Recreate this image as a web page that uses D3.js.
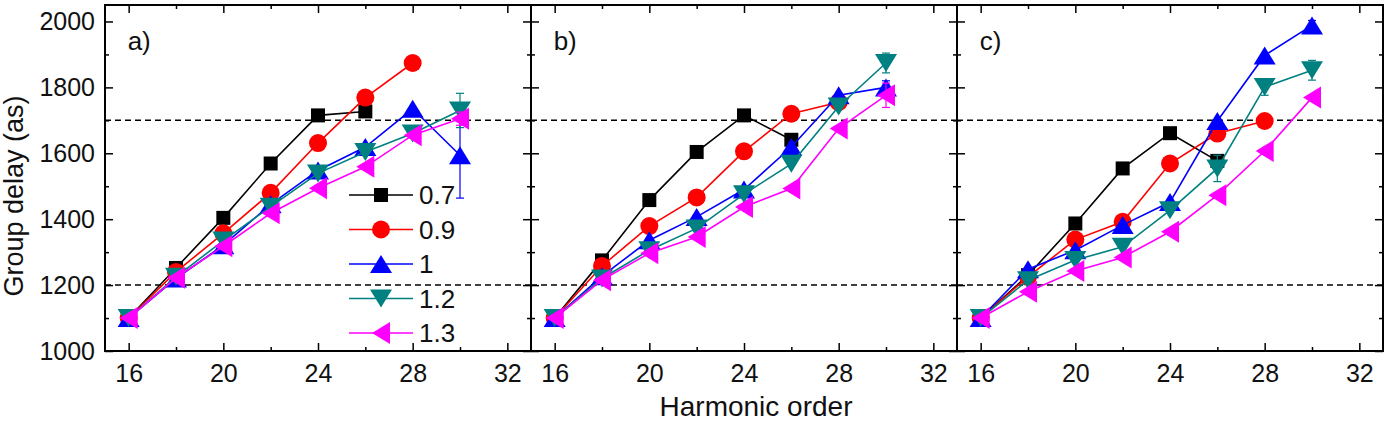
<!DOCTYPE html>
<html>
<head>
<meta charset="UTF-8">
<title>Group delay vs harmonic order</title>
<script src="https://d3js.org/d3.v7.min.js"></script>
<style>
  body { margin: 0; background: #fff; }
  text { font-family: "Liberation Sans", Arial, sans-serif; fill: #111; }
</style>
</head>
<body>
<div id="chart"></div>
<script>
// harmonic orders and legend entries
const harmonics = [16, 18, 20, 22, 24, 26, 28, 30];
const intensities = ["0.7", "0.9", "1", "1.2", "1.3"];
const panelLabels = ["a)", "b)", "c)"];
const xTicks = [16, 20, 24, 28, 32];
const xMinor = [18, 22, 26, 30];
const yTicks = [1000, 1200, 1400, 1600, 1800, 2000];
const yMinor = [1100, 1300, 1500, 1700, 1900];
const refLines = [1200, 1700];

// group delay (as), one row per intensity
const delayA = [
  [1100, 1252, 1404, 1569, 1715, 1727],
  [1100, 1240, 1357, 1480, 1631, 1769, 1874],
  [1100, 1220, 1321, 1445, 1548, 1619, 1735, 1594],
  [1100, 1225, 1335, 1438, 1539, 1604, 1660, 1730],
  [1100, 1222, 1318, 1418, 1494, 1559, 1655, 1705]
];
const delayB = [
  [1100, 1275, 1458, 1604, 1715, 1641],
  [1100, 1258, 1379, 1466, 1606, 1720, 1755],
  [1100, 1227, 1336, 1407, 1490, 1619, 1776, 1800],
  [1100, 1220, 1306, 1372, 1476, 1568, 1742, 1874],
  [1100, 1215, 1297, 1346, 1437, 1493, 1675, 1776]
];
const delayC = [
  [1100, 1230, 1387, 1554, 1661, 1577],
  [1100, 1225, 1338, 1392, 1569, 1660, 1698],
  [1100, 1248, 1306, 1382, 1452, 1698, 1897, 1988],
  [1100, 1215, 1276, 1316, 1427, 1554, 1801, 1852],
  [1100, 1180, 1243, 1284, 1362, 1473, 1607, 1769]
];
// error bars (half width), 0 = none drawn
const errA = [
  [0, 0, 0, 0, 0, 0],
  [0, 0, 0, 0, 0, 0, 0],
  [0, 0, 0, 0, 0, 0, 0, 130],
  [0, 0, 0, 0, 0, 0, 0, 52],
  [0, 0, 0, 0, 0, 0, 0, 20]
];
const errB = [
  [0, 0, 0, 0, 0, 0],
  [0, 0, 0, 0, 0, 0, 15],
  [0, 0, 0, 0, 0, 0, 0, 20],
  [0, 0, 0, 0, 0, 0, 0, 30],
  [0, 0, 0, 0, 0, 0, 0, 37]
];
const errC = [
  [0, 0, 0, 0, 0, 0],
  [0, 0, 0, 0, 0, 0, 0],
  [0, 0, 0, 0, 0, 0, 0, 15],
  [0, 0, 0, 0, 0, 40, 25, 30],
  [0, 0, 0, 0, 0, 0, 0, 0]
];

const panels = [
  {label: panelLabels[0], values: delayA, errors: errA},
  {label: panelLabels[1], values: delayB, errors: errB},
  {label: panelLabels[2], values: delayC, errors: errC}
];

const colors = ["#000000", "#ff0000", "#0000ff", "#008080", "#ff00ff"];
const shapes = [
  "M-7,-7H7V7H-7Z",
  d3.symbol(d3.symbolCircle, Math.PI * 9 * 9)(),
  "M0,-9L11,9H-11Z",
  "M0,9L11,-9H-11Z",
  "M-9,0L9,-11V11Z"
];

const width = 1386, height = 423;
const plotTop = 5, plotBottom = 351;
const plotLeft = 105, panelW = 426;

const svg = d3.select("#chart").append("svg")
  .attr("width", width)
  .attr("height", height);

const y = d3.scaleLinear().domain([1000, 2050]).range([plotBottom, plotTop]);

panels.forEach(function(p, pi) {
  const x0 = plotLeft + pi * panelW;
  const x = d3.scaleLinear().domain([15, 33]).range([x0, x0 + panelW]);
  const g = svg.append("g");

  // dashed reference lines
  g.selectAll(".ref").data(refLines).enter().append("line")
    .attr("x1", x0).attr("x2", x0 + panelW)
    .attr("y1", d => y(d)).attr("y2", d => y(d))
    .attr("stroke", "#000").attr("stroke-width", 1.5)
    .attr("stroke-dasharray", "6,4");

  // bottom axis with labels
  g.append("g").attr("transform", "translate(0," + plotBottom + ")")
    .call(d3.axisBottom(x).tickValues(xTicks).tickSize(-8).tickPadding(13).tickFormat(d3.format("d")));
  g.append("g").attr("transform", "translate(0," + plotBottom + ")")
    .call(d3.axisBottom(x).tickValues(xMinor).tickSize(-4).tickFormat(""));
  // top axis ticks only
  g.append("g").attr("transform", "translate(0," + plotTop + ")")
    .call(d3.axisTop(x).tickValues(xTicks).tickSize(-8).tickFormat(""));
  g.append("g").attr("transform", "translate(0," + plotTop + ")")
    .call(d3.axisTop(x).tickValues(xMinor).tickSize(-4).tickFormat(""));

  // left and right y ticks
  const yl = d3.axisLeft(y).tickValues(yTicks).tickSize(-8).tickPadding(10).tickFormat(d3.format("d"));
  if (pi > 0) yl.tickFormat("");
  g.append("g").attr("transform", "translate(" + x0 + ",0)").call(yl);
  g.append("g").attr("transform", "translate(" + x0 + ",0)")
    .call(d3.axisLeft(y).tickValues(yMinor).tickSize(-4).tickFormat(""));
  g.append("g").attr("transform", "translate(" + (x0 + panelW) + ",0)")
    .call(d3.axisRight(y).tickValues(yTicks).tickSize(-8).tickFormat(""));
  g.append("g").attr("transform", "translate(" + (x0 + panelW) + ",0)")
    .call(d3.axisRight(y).tickValues(yMinor).tickSize(-4).tickFormat(""));

  g.selectAll(".domain").remove();
  g.selectAll(".tick line").attr("stroke", "#000").attr("stroke-width", 1.5);
  g.selectAll(".tick text").attr("font-size", 25).attr("fill", "#111")
    .attr("font-family", "Liberation Sans, Arial, sans-serif");

  // frame
  g.append("rect")
    .attr("x", x0).attr("y", plotTop)
    .attr("width", panelW).attr("height", plotBottom - plotTop)
    .attr("fill", "none").attr("stroke", "#000").attr("stroke-width", 2);

  // panel label
  g.append("text")
    .attr("x", x(16) - 1).attr("y", 50)
    .attr("font-size", 26)
    .text(p.label);

  // series
  p.values.forEach(function(vals, si) {
    const pts = vals.map((v, i) => ({h: harmonics[i], v: v, e: p.errors[si][i]}));
    const sg = g.append("g");
    sg.append("path")
      .datum(pts)
      .attr("fill", "none")
      .attr("stroke", colors[si])
      .attr("stroke-width", 1.6)
      .attr("d", d3.line().x(d => x(d.h)).y(d => y(d.v)));

    const eb = sg.selectAll(".err").data(pts.filter(d => d.e > 0)).enter().append("g")
      .attr("stroke", colors[si]).attr("stroke-width", 1.2);
    eb.append("line")
      .attr("x1", d => x(d.h)).attr("x2", d => x(d.h))
      .attr("y1", d => y(d.v - d.e)).attr("y2", d => y(d.v + d.e));
    eb.append("line")
      .attr("x1", d => x(d.h) - 4).attr("x2", d => x(d.h) + 4)
      .attr("y1", d => y(d.v - d.e)).attr("y2", d => y(d.v - d.e));
    eb.append("line")
      .attr("x1", d => x(d.h) - 4).attr("x2", d => x(d.h) + 4)
      .attr("y1", d => y(d.v + d.e)).attr("y2", d => y(d.v + d.e));

    sg.selectAll(".mk").data(pts).enter().append("path")
      .attr("d", shapes[si])
      .attr("transform", d => "translate(" + x(d.h) + "," + y(d.v) + ")")
      .attr("fill", colors[si]);
  });

  // legend in first panel
  if (pi === 0) {
    const lg = g.append("g");
    intensities.forEach(function(name, si) {
      const ly = 195 + si * 34.5;
      lg.append("line")
        .attr("x1", 349).attr("x2", 413)
        .attr("y1", ly).attr("y2", ly)
        .attr("stroke", colors[si]).attr("stroke-width", 1.6);
      lg.append("path")
        .attr("d", shapes[si])
        .attr("transform", "translate(381," + ly + ")")
        .attr("fill", colors[si]);
      lg.append("text")
        .attr("x", 419).attr("y", ly)
        .attr("dy", "0.36em")
        .attr("font-size", 26)
        .text(name);
    });
  }
});

// axis titles
svg.append("text")
  .attr("x", plotLeft + panelW * 1.5 + 12).attr("y", 416)
  .attr("text-anchor", "middle")
  .attr("font-size", 28)
  .text("Harmonic order");

svg.append("text")
  .attr("transform", "translate(23,196) rotate(-90)")
  .attr("text-anchor", "middle")
  .attr("font-size", 27)
  .text("Group delay (as)");
</script>
</body>
</html>
